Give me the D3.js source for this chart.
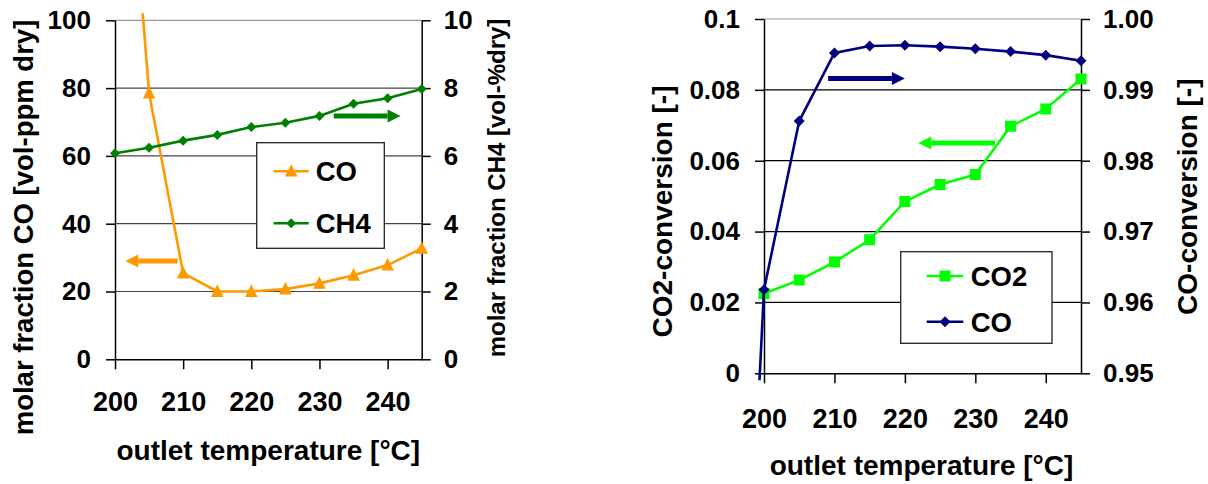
<!DOCTYPE html>
<html><head><meta charset="utf-8">
<script src="https://cdn.jsdelivr.net/npm/d3@7"></script>
<style>
body{margin:0;background:#fff;}
svg text{font-family:"Liberation Sans",Arial,sans-serif;font-weight:bold;fill:#000;}
</style></head><body>
<svg id="c" width="1208" height="484"></svg>
<script>
// ---------- data ----------
const temps = [200,205,210,215,220,225,230,235,240,245];
const coPpm = [205,78.5,25.4,20.0,20.0,20.7,22.4,24.8,27.8,32.7];
const ch4Pct = [6.08,6.24,6.45,6.62,6.85,6.98,7.18,7.54,7.70,7.97];
const co2Conv = [0.0225,0.0263,0.0314,0.0377,0.0485,0.0533,0.0561,0.0697,0.0746,0.0831];
const coConvTemps = [195,200,205,210,215,220,225,230,235,240,245];
const coConv = [0.862,0.9618,0.9856,0.9952,0.9962,0.9963,0.9961,0.9958,0.9954,0.9949,0.9941];
const xTicks = [200,210,220,230,240];
const ticksCOppm = [0,20,40,60,80,100];
const ticksCH4 = [0,2,4,6,8,10];
const ticksCO2conv = [0,0.02,0.04,0.06,0.08,0.1];
const ticksCOconv = [0.95,0.96,0.97,0.98,0.99,1.00];
const labelsCO2conv = ["0","0.02","0.04","0.06","0.08","0.1"];
const labelsCOconv = ["0.95","0.96","0.97","0.98","0.99","1.00"];

const FONT = '"Liberation Sans", Arial, sans-serif';
const svg = d3.select("#c");

function styleText(sel, size){
  sel.style("font-family",FONT).style("font-weight","bold").style("font-size",size+"px").style("fill","#000");
}

function markerPath(type, s){
  if(type==="tri") return `M0,${-s*0.6}L${s*0.52},${s*0.45}L${-s*0.52},${s*0.45}Z`;
  if(type==="dia") return `M0,${-s/2}L${s/2},0L0,${s/2}L${-s/2},0Z`;
  if(type==="sq") return `M${-s/2},${-s/2}h${s}v${s}h${-s}Z`;
}

function arrow(g, xa, xb, y, color){
  const dir = xb > xa ? 1 : -1, hl = 13, hw = 6.5;
  g.append("line").attr("x1",xa).attr("x2",xb - dir*hl).attr("y1",y).attr("y2",y)
    .attr("stroke",color).attr("stroke-width",5);
  g.append("path").attr("d",`M${xb},${y}L${xb-dir*hl},${y-hw}L${xb-dir*hl},${y+hw}Z`).attr("fill",color);
}

function drawChart(cfg, id){
  const g = svg.append("g");
  const x = d3.scaleLinear().domain([200,245]).range([cfg.x0,cfg.x1]);
  const yL = d3.scaleLinear().domain(cfg.yLdom).range([cfg.y1,cfg.y0]);
  const yR = d3.scaleLinear().domain(cfg.yRdom).range([cfg.y1,cfg.y0]);
  // gridlines
  g.selectAll(null).data(cfg.yLticks.slice(1,-1)).join("line")
    .attr("x1",cfg.x0).attr("x2",cfg.x1).attr("y1",d=>yL(d)).attr("y2",d=>yL(d))
    .attr("stroke",cfg.grid).attr("stroke-width",1.2);
  g.append("line").attr("x1",cfg.x0).attr("x2",cfg.x1).attr("y1",cfg.y0).attr("y2",cfg.y0)
    .attr("stroke","#999").attr("stroke-width",1.2);
  // axes
  const ax = g.append("g").attr("transform",`translate(0,${cfg.y1})`)
    .call(d3.axisBottom(x).tickValues(xTicks).tickSize(10).tickSizeOuter(0).tickPadding(cfg.xPad).tickFormat(d3.format("d")));
  styleText(ax.selectAll("text"), 27);
  const al = g.append("g").attr("transform",`translate(${cfg.x0},0)`)
    .call(d3.axisLeft(yL).tickValues(cfg.yLticks).tickSize(9).tickSizeOuter(0).tickPadding(15).tickFormat((d,i)=>cfg.yLlabels[i]));
  styleText(al.selectAll("text"), 26);
  const ar = g.append("g").attr("transform",`translate(${cfg.x1},0)`)
    .call(d3.axisRight(yR).tickValues(cfg.yRticks).tickSize(9).tickSizeOuter(0).tickPadding(13).tickFormat((d,i)=>cfg.yRlabels[i]));
  styleText(ar.selectAll("text"), 26);
  g.selectAll(".domain, .tick line").attr("stroke","#000").attr("stroke-width",1.5);
  // clip
  g.append("clipPath").attr("id",id).append("rect")
    .attr("x",cfg.x0-7).attr("y",cfg.y0-7).attr("width",cfg.x1-cfg.x0+14).attr("height",cfg.y1-cfg.y0+14);
  const pg = g.append("g").attr("clip-path",`url(#${id})`);
  cfg.series.forEach(s=>{
    const ys = s.axis==="L" ? yL : yR;
    const pts = s.xs.map((t,i)=>[x(t), ys(s.vals[i])]);
    pg.append("path").attr("d",d3.line()(pts)).attr("fill","none").attr("stroke",s.color).attr("stroke-width",2.6);
    pg.selectAll(null).data(pts).join("path").attr("transform",p=>`translate(${p[0]},${p[1]})`)
      .attr("d",markerPath(s.marker,s.ms)).attr("fill",s.color);
  });
  // arrows
  cfg.arrows.forEach(a=>{
    const ys = a.axis==="L" ? yL : yR;
    arrow(g, x(a.from), x(a.to), ys(a.y), a.color);
  });
  // legend
  const L = cfg.legend;
  g.append("rect").attr("x",L.x).attr("y",L.y).attr("width",L.w).attr("height",L.h)
    .attr("fill","#fff").attr("stroke","#222").attr("stroke-width",1.3);
  L.items.forEach((it,i)=>{
    const s = cfg.series[it];
    const cy = L.y + L.first + i*L.step;
    g.append("line").attr("x1",L.x+L.lx0).attr("x2",L.x+L.lx1).attr("y1",cy).attr("y2",cy)
      .attr("stroke",s.color).attr("stroke-width",2.6);
    g.append("path").attr("transform",`translate(${L.x+(L.lx0+L.lx1)/2},${cy})`)
      .attr("d",markerPath(s.marker,s.ms)).attr("fill",s.color);
    styleText(g.append("text").attr("x",L.x+L.tx).attr("y",cy+10).text(s.name), 27.5);
  });
  // titles
  styleText(g.append("text").attr("x",cfg.xTitle[0]).attr("y",cfg.xTitle[1]).attr("text-anchor","middle")
    .text("outlet temperature [°C]"), 28);
  styleText(g.append("text").attr("transform",`translate(${cfg.yLTitle[0]},${cfg.yLTitle[1]}) rotate(-90)`)
    .attr("text-anchor","middle").text(cfg.yLTitle[2]), cfg.yLTitle[3]);
  styleText(g.append("text").attr("transform",`translate(${cfg.yRTitle[0]},${cfg.yRTitle[1]}) rotate(-90)`)
    .attr("text-anchor","middle").text(cfg.yRTitle[2]), cfg.yRTitle[3]);
}

drawChart({
  x0:115, x1:421.7, y0:20.3, y1:359.3,
  yLdom:[0,100], yRdom:[0,10], grid:"#444", xPad:23,
  yLticks:ticksCOppm, yLlabels:ticksCOppm.map(String),
  yRticks:ticksCH4, yRlabels:ticksCH4.map(String),
  series:[
    {name:"CO", xs:temps, vals:coPpm, axis:"L", color:"#FF9900", marker:"tri", ms:12},
    {name:"CH4", xs:temps, vals:ch4Pct, axis:"R", color:"#008000", marker:"dia", ms:10}
  ],
  arrows:[
    {from:209.2, to:201.5, y:29, axis:"L", color:"#FF9900"},
    {from:232.1, to:241.9, y:7.18, axis:"R", color:"#008000"}
  ],
  legend:{x:256.7, y:142.7, w:127.6, h:105.6, first:28.5, step:52, lx0:17, lx1:52, tx:59, items:[0,1]},
  xTitle:[268.3, 460],
  yLTitle:[33, 227.5, "molar fraction CO [vol-ppm dry]", 27.5],
  yRTitle:[505, 188, "molar fraction CH4 [vol-%dry]", 24]
}, "clipA");

drawChart({
  x0:764, x1:1081, y0:19, y1:373.3,
  yLdom:[0,0.1], yRdom:[0.95,1.0], grid:"#000", xPad:26,
  yLticks:ticksCO2conv, yLlabels:labelsCO2conv,
  yRticks:ticksCOconv, yRlabels:labelsCOconv,
  series:[
    {name:"CO2", xs:temps, vals:co2Conv, axis:"L", color:"#00FF00", marker:"sq", ms:11},
    {name:"CO", xs:coConvTemps, vals:coConv, axis:"R", color:"#000080", marker:"dia", ms:11}
  ],
  arrows:[
    {from:209.1, to:220.0, y:0.9916, axis:"R", color:"#000080"},
    {from:232.8, to:221.9, y:0.065, axis:"L", color:"#00FF00"}
  ],
  legend:{x:900.7, y:251.7, w:151.3, h:91.6, first:24.3, step:45.7, lx0:26, lx1:62.6, tx:70, items:[0,1]},
  xTitle:[921.5, 475],
  yLTitle:[672, 211.5, "CO2-conversion [-]", 28],
  yRTitle:[1197, 196.7, "CO-conversion [-]", 28]
}, "clipB");
</script>
</body></html>
